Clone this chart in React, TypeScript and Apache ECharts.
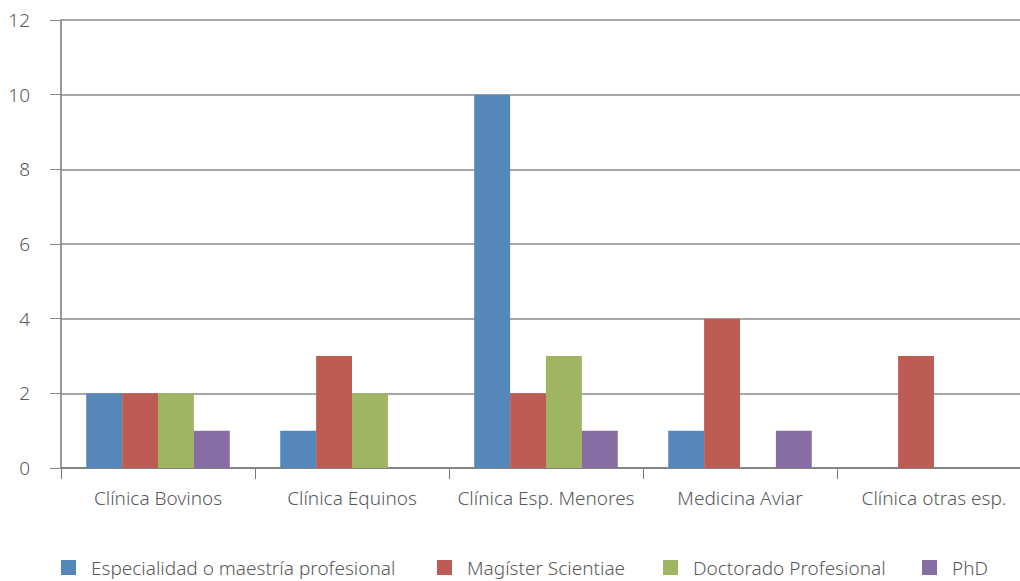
import React, { useEffect, useRef } from "react";
import * as echarts from "echarts";

const categories = ["Clínica Bovinos", "Clínica Equinos", "Clínica Esp. Menores", "Medicina Aviar", "Clínica otras esp."];
const seriesNames = ["Especialidad o maestría profesional", "Magíster Scientiae", "Doctorado Profesional", "PhD"];
const especialidad = [2, 1, 10, 1, 0];
const magister = [2, 3, 2, 4, 3];
const doctorado = [2, 2, 3, 0, 0];
const phd = [1, 0, 1, 1, 0];
const colors = ["#5587BA", "#BC5C55", "#A0B562", "#866EA4"];
const legendLefts = [61, 437, 663, 922];

export default function App() {
  const ref = useRef<HTMLDivElement>(null);
  useEffect(() => {
    if (!ref.current) return;
    const chart = echarts.init(ref.current, null, { renderer: "svg" });
    const font = "'Noto Sans', 'Open Sans', sans-serif";
    const data = [especialidad, magister, doctorado, phd];
    chart.setOption({
      animation: false,
      textStyle: { fontFamily: font },
      grid: { left: 61, right: 9, top: 20, bottom: 113, containLabel: false },
      legend: seriesNames.map((n, i) => ({
        data: [n],
        left: legendLefts[i],
        top: 558,
        padding: 0,
        itemWidth: 15,
        itemHeight: 15,
        icon: "rect",
        selectedMode: false,
        textStyle: { fontSize: 19, lineHeight: 19, color: "#595959", fontFamily: font, fontWeight: 300, padding: [0, 0, 0, 10] },
      })),
      xAxis: {
        type: "category",
        data: categories,
        axisLine: { lineStyle: { color: "#7a7a7a", width: 1.5 } },
        axisTick: { show: true, interval: 0, length: 11, lineStyle: { color: "#7a7a7a" } },
        axisLabel: { interval: 0, fontSize: 19, color: "#595959", margin: 20, fontFamily: font, fontWeight: 300 },
      },
      yAxis: {
        type: "value",
        min: 0,
        max: 12,
        interval: 2,
        axisLine: { show: true, lineStyle: { color: "#7a7a7a", width: 1.5 } },
        axisTick: { show: true, length: 11, lineStyle: { color: "#8a8a8a" } },
        splitLine: { lineStyle: { color: "#8a8a8a", width: 1.5 } },
        axisLabel: { fontSize: 19, color: "#595959", margin: 31, fontFamily: font, fontWeight: 300 },
      },
      series: seriesNames.map((n, i) => ({
        name: n,
        type: "bar",
        data: data[i],
        barGap: "0%",
        barCategoryGap: "26%",
        itemStyle: { color: colors[i] },
      })),
    });
    return () => chart.dispose();
  }, []);
  return (
    <div style={{ position: "absolute", left: 0, top: 0, width: 1020, height: 581, overflow: "hidden", background: "#fff" }}>
      <div ref={ref} style={{ width: 1040, height: 581 }} />
    </div>
  );
}
